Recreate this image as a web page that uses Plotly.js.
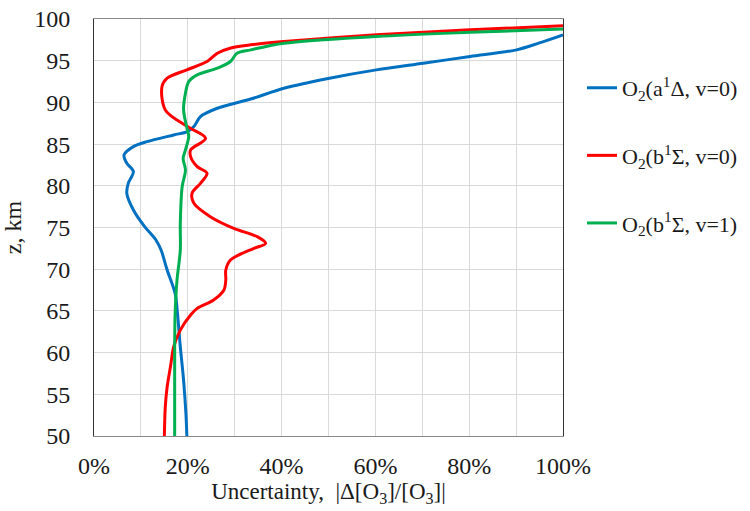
<!DOCTYPE html>
<html>
<head>
<meta charset="utf-8">
<script src="https://cdn.plot.ly/plotly-3.0.1.min.js"></script>
<style>html,body{margin:0;padding:0;background:#fff;}#chart{width:750px;height:511px;}</style>
</head>
<body>
<div id="chart"></div>
<script>
// Altitude (km) and uncertainty (%)
const zA = [50, 52.7, 56.7, 60.7, 64.7, 67.1, 69.9, 72.3, 73.5, 75.1, 77.1, 79.1, 80.3, 81.7, 82.7, 83.7, 84.7, 85.3, 86.1, 86.5, 87.1, 88.3, 89.3, 90.4, 91.7, 92.9, 93.9, 94.7, 95.5, 96.3, 97.1, 98.1];
const xA = [19.8, 19.6, 19.1, 18.4, 17.8, 17.3, 15.6, 14.3, 13.2, 10.8, 8.4, 7.0, 7.3, 8.4, 7.0, 6.4, 8.4, 11.3, 17.0, 19.9, 21.3, 22.7, 26.3, 33.4, 40.5, 50.2, 60.2, 70.2, 80.2, 90.1, 94.8, 100];

const zB0 = [50, 53.5, 55.9, 58.3, 60.7, 62.7, 64.5, 65.3, 66.3, 67.5, 68.7, 69.9, 71.1, 72.5, 73.1, 73.9, 74.9, 76.3, 77.9, 79.1, 80.3, 81.5, 82.3, 83.5, 84.3, 85.7, 87.1, 89.1, 91.9, 92.9, 93.9, 94.9, 95.9, 96.5, 96.9, 97.3, 98.1, 98.7, 99.2];
const xB0 = [15.0, 15.2, 15.6, 16.3, 17.0, 18.4, 20.6, 22.0, 25.5, 27.7, 28.1, 28.1, 29.1, 34.1, 36.6, 34.8, 29.8, 24.8, 21.3, 20.9, 22.7, 24.1, 22.0, 20.6, 20.6, 23.8, 19.9, 15.2, 14.5, 15.6, 19.8, 24.1, 26.3, 29.0, 33.4, 40.5, 60.2, 80.2, 100];

const zB1 = [50, 60.7, 64.7, 68.7, 72.3, 75.5, 79.9, 81.9, 83.3, 84.3, 85.9, 86.7, 89.1, 91.1, 92.5, 93.3, 94.1, 94.9, 95.9, 96.3, 97.1, 97.9, 98.4, 98.8];
const xB1 = [17.2, 17.2, 17.3, 17.7, 18.4, 18.4, 18.8, 19.5, 19.0, 19.5, 20.2, 19.9, 19.1, 19.5, 20.2, 22.0, 26.3, 29.1, 30.5, 33.4, 40.5, 60.2, 80.2, 100];

const names = ['O<sub>2</sub>(a<sup>1</sup>Δ, v=0)', 'O<sub>2</sub>(b<sup>1</sup>Σ, v=0)', 'O<sub>2</sub>(b<sup>1</sup>Σ, v=1)'];
const colors = ['#0070C0', '#FF0000', '#00B050'];
const xTickVals = [0, 20, 40, 60, 80, 100];
const xTickText = ['0%', '20%', '40%', '60%', '80%', '100%'];

const series = [[xA, zA], [xB0, zB0], [xB1, zB1]];
const traces = series.map((s, i) => ({
  x: s[0], y: s[1], type: 'scatter', mode: 'lines', name: names[i],
  legendgroup: 'g' + i,
  line: {color: colors[i], width: 3, shape: 'spline', smoothing: 0.9}
}));

const family = '"Liberation Serif", "Times New Roman", serif';
const font = {family: family, size: 24, color: '#1a1a1a'};
const legFont = {family: family, size: 22, color: '#1a1a1a'};
const layout = {
  width: 750, height: 511,
  margin: {l: 94, r: 187, t: 19, b: 75, autoexpand: false},
  paper_bgcolor: '#fff', plot_bgcolor: '#fff',
  font: font,
  showlegend: true,
  legend: {xref: 'container', x: 0.776, y: 0.885, xanchor: 'left', yanchor: 'top', font: legFont, tracegroupgap: 36, traceorder: 'grouped', itemwidth: 30},
  xaxis: {
    range: [0, 100], tickvals: xTickVals, ticktext: xTickText,
    showgrid: true, gridcolor: '#d9d9d9', gridwidth: 1,
    showline: true, linecolor: '#898989', linewidth: 1, mirror: true,
    ticks: 'outside', ticklen: 8, tickcolor: 'rgba(0,0,0,0)', zeroline: false, tickfont: font,
    minor: {dtick: 10, tick0: 0, showgrid: true, gridcolor: '#d9d9d9', gridwidth: 1},
    title: {text: 'Uncertainty,  |Δ[O<sub>3</sub>]/[O<sub>3</sub>]|', font: {family: family, size: 23, color: '#1a1a1a'}, standoff: 4}
  },
  yaxis: {
    range: [50, 100], dtick: 5, tick0: 50,
    showgrid: true, gridcolor: '#d9d9d9', gridwidth: 1,
    showline: true, linecolor: '#333', linewidth: 1, mirror: true,
    ticks: 'outside', ticklen: 18, tickcolor: 'rgba(0,0,0,0)', zeroline: false, tickfont: font,
    title: {text: 'z, km', font: font, standoff: 6}
  }
};
Plotly.newPlot('chart', traces, layout, {displayModeBar: false, staticPlot: true});
</script>
</body>
</html>
